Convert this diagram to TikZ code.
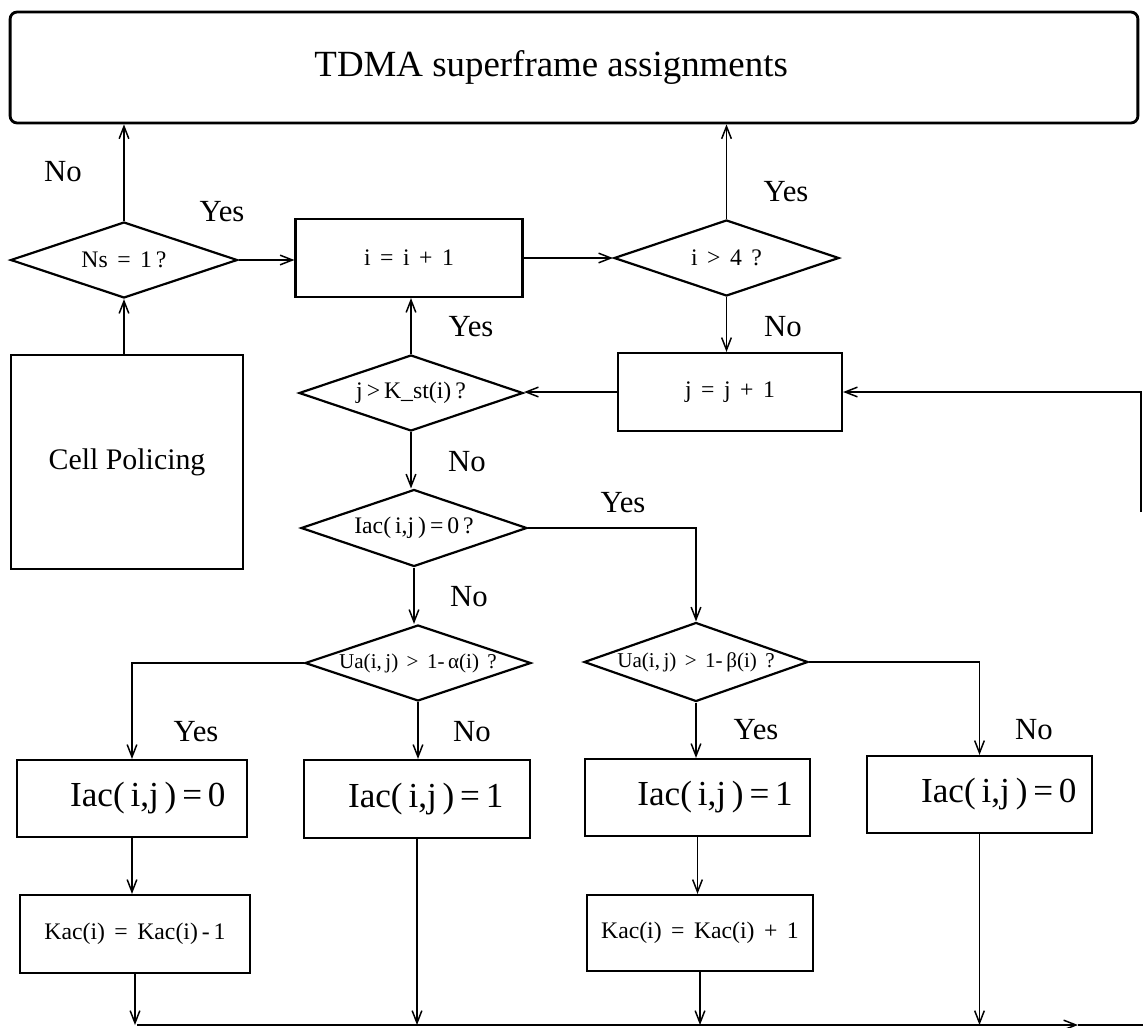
\documentclass[tikz,border=0pt]{standalone}
\usepackage{fontspec}
\setmainfont{Liberation Serif}
\usetikzlibrary{shapes.geometric,arrows.meta}
\newcommand\myg{\hspace{0.4em}}
\begin{document}
\begin{tikzpicture}[x=0.02cm,y=-0.02cm,
  box/.style={draw, line width=1.25pt, inner sep=0pt, rectangle},
  dia/.style={draw, line width=1.25pt, diamond, aspect=3, inner sep=0pt},
  arr/.style={-{Straight Barb[length=7pt,width=5.5pt]}, line width=0.85pt},
  conn/.style={line width=0.85pt},
  lab/.style={font=\fontsize{17.5}{18}\selectfont, inner sep=0pt},
  big/.style={font=\fontsize{20}{20}\selectfont},
  small/.style={font=\fontsize{13.5}{14}\selectfont},
  tiny/.style={font=\fontsize{12}{12}\selectfont}]
\useasboundingbox (0,0) rectangle (1143,1028);

% nodes
\node[box, rounded corners=4pt, line width=1.6pt, minimum width=22.56cm, minimum height=2.22cm,
      font=\fontsize{21}{21}\selectfont] (top) at (574,67.5) {TDMA superframe assignments\hspace*{26pt}};
\node[dia, small, minimum width=4.54cm, minimum height=1.52cm] (ns) at (124,260) {Ns\myg=\myg1\,?};
\node[box, small, minimum width=4.54cm, minimum height=1.56cm] (inci) at (409,258) {i\myg=\myg i\myg+\myg1};
\node[dia, small, minimum width=4.5cm, minimum height=1.52cm] (i4) at (726.5,258) {i\myg>\myg4\myg?};
\node[box, small, minimum width=4.48cm, minimum height=1.56cm] (incj) at (730,392) {j\myg=\myg j\myg+\myg1};
\node[dia, small, minimum width=4.48cm, minimum height=1.52cm] (jk) at (411,393) {j\,>\,K\_st(i)\,?};
\node[box, font=\fontsize{17}{17}\selectfont, minimum width=4.64cm, minimum height=4.28cm] (cell) at (127,462) {Cell Policing};
\node[dia, small, minimum width=4.52cm, minimum height=1.54cm] (iac0) at (414,528) {Iac(\,i,j\,)\,=\,0\,?};
\node[dia, tiny, minimum width=4.52cm, minimum height=1.52cm] (uaa) at (418,663) {Ua(i,\,j)\myg>\myg1-\,α(i)\myg?};
\node[dia, tiny, minimum width=4.48cm, minimum height=1.58cm] (uab) at (696,662) {Ua(i,\,j)\myg>\myg1-\,β(i)\myg?};
\node[box, big, minimum width=4.6cm, minimum height=1.54cm] (box1) at (132,798.5) {\hspace*{18pt}Iac(\,i,j\,)\,=\,0};
\node[box, big, minimum width=4.52cm, minimum height=1.56cm] (box2) at (417,799) {\hspace*{10pt}Iac(\,i,j\,)\,=\,1};
\node[box, big, minimum width=4.5cm, minimum height=1.54cm] (box3) at (697.5,797.5) {\hspace*{20pt}Iac(\,i,j\,)\,=\,1};
\node[box, big, minimum width=4.5cm, minimum height=1.54cm] (box4) at (979.5,794.5) {\hspace*{22pt}Iac(\,i,j\,)\,=\,0};
\node[box, small, minimum width=4.6cm, minimum height=1.56cm] (kacm) at (135,934) {Kac(i)\myg=\myg Kac(i)\,-\,1};
\node[box, small, minimum width=4.52cm, minimum height=1.52cm] (kacp) at (700,933) {Kac(i)\myg=\myg Kac(i)\myg+\myg1};

% labels
\node[lab] (l1) at (63,172) {No};
\node[lab] (l2) at (222,212) {Yes};
\node[lab] (l3) at (786,192) {Yes};
\node[lab] (l4) at (783,327) {No};
\node[lab] (l5) at (471,327) {Yes};
\node[lab] (l6) at (467,462) {No};
\node[lab] (l7) at (623,503) {Yes};
\node[lab] (l8) at (469,597) {No};
\node[lab] (l9) at (196,732) {Yes};
\node[lab] (l10) at (472,732) {No};
\node[lab] (l11) at (756,730) {Yes};
\node[lab] (l12) at (1034,730) {No};

% connectors
\draw[arr] (ns.north) -- (ns.north |- top.south);
\draw[arr] (ns.south |- cell.north) -- (ns.south);
\draw[arr] (ns.east) -- (ns.east -| inci.west);
\draw[arr] (inci.east) -- (inci.east -| i4.west);
\draw[arr] (i4.north) -- (i4.north |- top.south);
\draw[arr] (i4.south) -- (i4.south |- incj.north);
\draw[arr] (incj.west) -- (incj.west -| jk.east);
\draw[arr] (jk.north) -- (jk.north |- inci.south);
\draw[arr] (jk.south) -- (jk.south |- iac0.north);
\draw[arr] (iac0.south) -- (iac0.south |- uaa.north);
\draw[arr] (iac0.east) -| (uab.north);
\draw[arr] (uaa.west) -| (box1.north);
\draw[arr] (uaa.south) -- (uaa.south |- box2.north);
\draw[arr] (uab.south) -- (uab.south |- box3.north);
\draw[arr] (uab.east) -| (box4.north);
\draw[arr] (box1.south) -- (box1.south |- kacm.north);
\draw[arr] (box3.south) -- (box3.south |- kacp.north);

\coordinate (bl) at (137,1025);
\coordinate (tipr) at (1078,1025);
\coordinate (br) at (1143,1025);
\draw[arr] (kacm.south) -- (kacm.south |- bl);
\draw[arr] (box2.south) -- (box2.south |- bl);
\draw[arr] (kacp.south) -- (kacp.south |- bl);
\draw[arr] (box4.south) -- (box4.south |- bl);
\draw[arr] (bl) -- (tipr);
\draw[conn] (tipr) -- (br);

\coordinate (rl) at (1141,512);
\draw[arr] (rl) |- (incj.east);
\end{tikzpicture}
\end{document}
